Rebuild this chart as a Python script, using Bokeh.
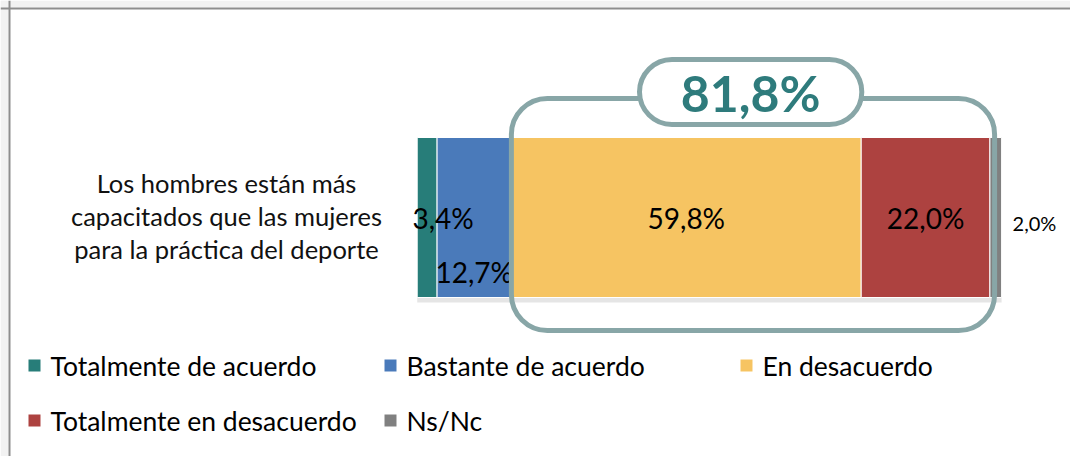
import textwrap
from bokeh.plotting import figure
from bokeh.models import Range1d, BoxAnnotation, Label, Span, ColumnDataSource
from bokeh.core.properties import value
from bokeh.embed import file_html
from bokeh.resources import INLINE

# ---------------- data ----------------
categories = ["Los hombres están más capacitados que las mujeres para la práctica del deporte"]
series = ["Totalmente de acuerdo", "Bastante de acuerdo", "En desacuerdo",
          "Totalmente en desacuerdo", "Ns/Nc"]
values = [3.4, 12.7, 59.8, 22.0, 2.0]
colors = ["#277d79", "#4a7aba", "#f6c462", "#ad4240", "#808080"]
highlight = ["En desacuerdo", "Totalmente en desacuerdo"]

# ---------------- layout helpers ----------------
W, H = 1070, 456
PAGE = 0                               # canvas origin on the page
PX_PER_PCT = 5.85
BAR_LEFT = 416.7                       # page x of the 0 % position
x0 = -(BAR_LEFT - PAGE) / PX_PER_PCT
FONT = "Lato"


def dx(page_x):
    return x0 + (page_x - PAGE) / PX_PER_PCT


def fmt(v):
    return f"{v:.1f}".replace(".", ",") + "%"


p = figure(width=W, height=H, output_backend="svg", toolbar_location=None,
           x_range=Range1d(x0, x0 + W / PX_PER_PCT),
           y_range=Range1d(PAGE + H, PAGE),
           x_axis_location=None, y_axis_location=None,
           min_border=0, outline_line_color=None,
           background_fill_color="white", border_fill_color="white")
p.grid.visible = False

# outer grey surround (top / left)
p.quad(left=[dx(0), dx(0)], right=[dx(8), dx(W)], top=[0, 0], bottom=[H, 7],
       fill_color="#f2f2f2", line_color=None)

# ---------------- stacked bar ----------------
lefts, rights = [], []
acc = 0.0
for v in values:
    lefts.append(acc)
    acc += v
    rights.append(acc)
total = acc
BAR_Y, BAR_H = 217, 160

# subtle shadow under the bar
p.quad(left=[0], right=[total], top=[BAR_Y + BAR_H / 2], bottom=[BAR_Y + BAR_H / 2 + 5],
       fill_color="#000000", fill_alpha=0.10, line_color=None)

src = ColumnDataSource(dict(y=[BAR_Y] * len(values), left=lefts, right=rights,
                            color=colors, name=series))
p.hbar(y="y", left="left", right="right", height=BAR_H, fill_color="color",
       line_color="white", line_width=1, source=src)

# data labels
centers = [(l + r) / 2 for l, r in zip(lefts, rights)]
x_offs = [16, 0, 0, 0]
y_offs = [0, 54, 0, 0]
p.text(x=centers[:4], y=[BAR_Y] * 4, text=[fmt(v) for v in values[:4]],
       x_offset=x_offs, y_offset=y_offs,
       text_align="center", text_baseline="middle",
       text_font=value(FONT), text_font_size="28px", text_color="#000000")
p.text(x=[rights[4]], y=[BAR_Y], text=[fmt(values[4])], x_offset=11, y_offset=5,
       text_align="left", text_baseline="middle",
       text_font=value(FONT), text_font_size="20px", text_color="#000000")

# category label (left)
lines = textwrap.wrap(categories[0], 28)
p.text(x=[dx(226)] * len(lines), y=[BAR_Y - 35 + 33 * i for i in range(len(lines))],
       text=lines, text_align="center", text_baseline="middle",
       text_font=value(FONT), text_font_size="25.5px", text_color="#111111")

# ---------------- highlight bracket ----------------
i0 = series.index(highlight[0])
lo = lefts[i0]
hi = rights[series.index(highlight[-1])]
share = sum(values[series.index(s)] for s in highlight)
mid = (lo + hi) / 2
BR = "#88a6a7"
p.add_layout(BoxAnnotation(left=lo, right=hi + 0.8, top=98, bottom=330,
                           fill_color=None, fill_alpha=0, line_color=BR,
                           line_alpha=1.0, line_width=5, border_radius=36))
p.add_layout(BoxAnnotation(left=mid - 19, right=mid + 19, top=59, bottom=124,
                           fill_color="white", fill_alpha=1.0, line_color=BR,
                           line_alpha=1.0, line_width=5, border_radius=33))
p.add_layout(Label(x=mid, y=92, text=fmt(share), text_align="center",
                   text_baseline="middle", text_font=FONT, text_font_size="50px",
                   text_font_style="bold", text_color="#2e7b7c"))

# ---------------- legend ----------------
col_px = [34, 390, 746]
row_py = [365, 420]
sq_x, sq_y, tx_x, tx_y = [], [], [], []
for i, s in enumerate(series):
    r, c = divmod(i, 3)
    sq_x.append(dx(col_px[c]))
    sq_y.append(row_py[r])
    tx_x.append(dx(col_px[c] + 16))
    tx_y.append(row_py[r])
p.scatter(x=sq_x, y=sq_y, marker="square", size=12, fill_color=colors,
          line_color=None)
p.text(x=tx_x, y=tx_y, text=series, text_align="left", text_baseline="middle",
       text_font=value(FONT), text_font_size="26.5px", text_color="#000000")

# chart frame (left and top edges)
p.add_layout(Span(location=dx(9), dimension="height", line_color="#8e8e8e", line_width=2))
p.add_layout(Span(location=8, dimension="width", line_color="#8e8e8e", line_width=2))

open("out.html", "w").write(file_html(p, INLINE))
